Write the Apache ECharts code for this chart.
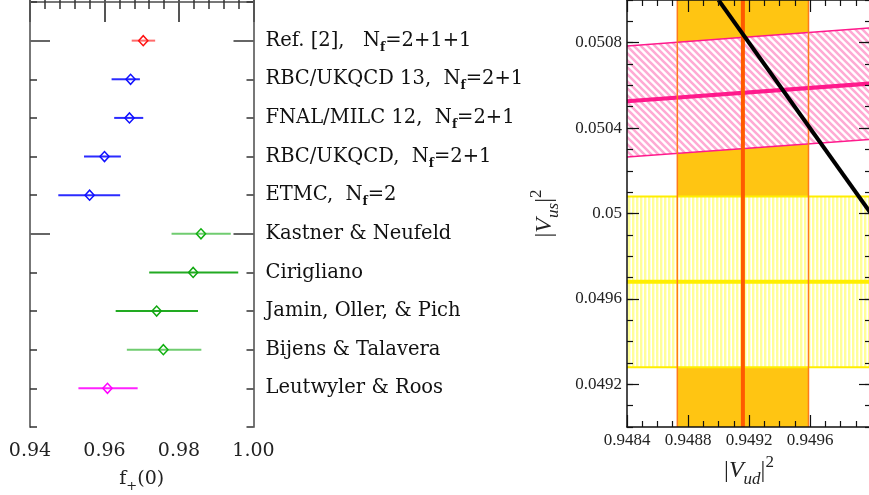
<!DOCTYPE html>
<html><head><meta charset="utf-8">
<script src="https://cdn.jsdelivr.net/npm/echarts@6/dist/echarts.min.js"></script>
<style>html,body{margin:0;padding:0;background:#fff}#c{width:869px;height:495px}</style>
</head><body><div id="c"></div>
<script>
// ---- Left panel data: f+(0) determinations ----
const names = ['Ref. [2],   N_f=2+1+1', 'RBC/UKQCD 13,  N_f=2+1', 'FNAL/MILC 12,  N_f=2+1', 'RBC/UKQCD,  N_f=2+1', 'ETMC,  N_f=2', 'Kastner & Neufeld', 'Cirigliano', 'Jamin, Oller, & Pich', 'Bijens & Talavera', 'Leutwyler & Roos'];
const fplus   = [0.9704, 0.9670, 0.9667, 0.9600, 0.9560, 0.9859, 0.9838, 0.9740, 0.9758, 0.9608];
const errLow  = [0.0031, 0.0051, 0.0041, 0.0055, 0.0084, 0.0079, 0.0118, 0.0110, 0.0098, 0.0078];
const errHigh = [0.0032, 0.0025, 0.0037, 0.0044, 0.0082, 0.0080, 0.0121, 0.0111, 0.0102, 0.0081];

// ---- Right panel data ----
const vud2 = 0.94916, vud2Err = 0.00043;          // |Vud|^2 band (orange)
const vus2 = 0.04968, vus2Err = 0.00040;          // |Vus|^2 band (yellow)
const ratioCenter = [[0.9484, 0.050526], [0.9500, 0.050609]]; // pink band centre
const ratioUpper  = [[0.9484, 0.050784], [0.9500, 0.050870]];
const ratioLower  = [[0.9484, 0.050265], [0.9500, 0.050347]];
const unitarity   = [[0.9490, 0.0510], [0.9500, 0.0500]];   // black line
const vudRange = [0.9484, 0.9500];
const vusRange = [0.0490, 0.0510];
const vusMajor = [0.0492, 0.0496, 0.0500, 0.0504, 0.0508];

// ---- styles ----
const barColors  = ['#ff6b6b', '#2b2bff', '#2b2bff', '#2b2bff', '#2b2bff', '#70cc70', '#22aa22', '#22aa22', '#70cc70', '#ff22ff'];
const markColors = ['#ff1010', '#1010ff', '#1010ff', '#1010ff', '#1010ff', '#10b010', '#10a810', '#10a810', '#10b010', '#ff00ff'];

function makePattern(w, h, draw) {
  const c = document.createElement('canvas'); c.width = w; c.height = h;
  draw(c.getContext('2d'), w, h); return c;
}
const pinkPat = makePattern(7, 7, (g, w, h) => {
  g.fillStyle = '#ffffff'; g.fillRect(0, 0, w, h);
  g.strokeStyle = '#ffaad4'; g.lineWidth = 2.6; g.beginPath();
  g.moveTo(-2, -2); g.lineTo(w + 2, h + 2);
  g.moveTo(-2, h - 2); g.lineTo(2, h + 2);
  g.moveTo(w - 2, -2); g.lineTo(w + 2, 2);
  g.stroke();
});
const yellowPat = makePattern(4, 4, (g, w, h) => {
  g.fillStyle = '#ffffff'; g.fillRect(0, 0, w, h);
  g.fillStyle = '#ffff99'; g.fillRect(0, 0, 2.4, h);
});

const serif = 'DejaVu Serif';
const times = 'Liberation Serif';

function labelRich(s) {
  const i = s.indexOf('N_f');
  if (i < 0) return '{t|' + s + '}';
  return '{t|' + s.slice(0, i) + 'N}{s|f}{t|' + s.slice(i + 3) + '}';
}

const leftRows = fplus.map((v, i) => [v, v - errLow[i], v + errHigh[i], i + 1]);

const baseTickL = { inside: true, length: 7, lineStyle: { color: '#333', width: 1.5 } };
const axisLineL = { show: true, lineStyle: { color: '#777', width: 2 } };
const axisLineR = { show: true, lineStyle: { color: '#111', width: 1.5 } };
const nameRich = {
  n: { fontSize: 24, fontFamily: times, color: '#222', lineHeight: 34 },
  v: { fontSize: 24, fontFamily: times, fontStyle: 'italic', color: '#222', lineHeight: 34 },
  sub: { fontSize: 17, fontFamily: times, fontStyle: 'italic', color: '#222', lineHeight: 15, verticalAlign: 'bottom' },
  sup: { fontSize: 17, fontFamily: times, color: '#222', lineHeight: 15, verticalAlign: 'top' }
};

const option = {
  animation: false,
  backgroundColor: '#fff',
  grid: [
    { left: 30, top: 2, width: 223.5, height: 425, outerBoundsMode: 'none', containLabel: false },
    { left: 627, top: 0, width: 244, height: 427, outerBoundsMode: 'none', containLabel: false }
  ],
  xAxis: [
    { gridIndex: 0, type: 'value', position: 'bottom', min: 0.94, max: 1.00, interval: 0.02,
      axisLine: axisLineL,
      axisTick: { inside: true, length: 20, lineStyle: { color: '#555', width: 2 } },
      minorTick: { show: true, splitNumber: 5, length: 7, lineStyle: { color: '#333', width: 1.5 } },
      splitLine: { show: false },
      axisLabel: { margin: 15, fontSize: 19, fontFamily: serif, color: '#222', formatter: v => v.toFixed(2) },
      name: '{n|f}{sub|+}{n|(0)}', nameLocation: 'middle', nameGap: 38,
      nameTextStyle: { rich: {
        n: { fontSize: 19, fontFamily: serif, color: '#222', lineHeight: 28 },
        sub: { fontSize: 13, fontFamily: serif, color: '#222', lineHeight: 12, verticalAlign: 'bottom' } } } },
    { gridIndex: 0, type: 'value', position: 'top', min: 0.94, max: 1.00, interval: 0.02,
      axisLine: axisLineL,
      axisTick: { inside: true, length: 20, lineStyle: { color: '#555', width: 2 } },
      minorTick: { show: true, splitNumber: 5, length: 7, lineStyle: { color: '#333', width: 1.5 } },
      splitLine: { show: false }, axisLabel: { show: false } },
    { gridIndex: 1, type: 'value', position: 'bottom', min: vudRange[0], max: vudRange[1], interval: 0.0004, z: 10,
      axisLine: axisLineR,
      axisTick: { inside: true, length: 12, lineStyle: { color: '#111', width: 1.2 } },
      minorTick: { show: true, splitNumber: 4, length: 6, lineStyle: { color: '#111', width: 1.2 } },
      splitLine: { show: false },
      axisLabel: { margin: 5, fontSize: 17, fontFamily: times, color: '#222', showMaxLabel: false, formatter: v => v.toFixed(4) },
      name: '{n||}{v|V}{sub|ud}{n||}{sup|2}', nameLocation: 'middle', nameGap: 24,
      nameTextStyle: { rich: nameRich } },
    { gridIndex: 1, type: 'value', position: 'top', min: vudRange[0], max: vudRange[1], interval: 0.0004, z: 10,
      axisLine: axisLineR,
      axisTick: { inside: true, length: 12, lineStyle: { color: '#111', width: 1.2 } },
      minorTick: { show: true, splitNumber: 4, length: 6, lineStyle: { color: '#111', width: 1.2 } },
      splitLine: { show: false }, axisLabel: { show: false } }
  ],
  yAxis: [
    { gridIndex: 0, type: 'value', position: 'left', min: 0, max: 11, interval: 1, inverse: true,
      axisLine: axisLineL, axisTick: baseTickL, splitLine: { show: false }, axisLabel: { show: false } },
    { gridIndex: 0, type: 'value', position: 'right', min: 0, max: 11, interval: 1, inverse: true,
      axisLine: axisLineL, axisTick: baseTickL, splitLine: { show: false },
      axisLabel: { margin: 12, color: '#111',
        formatter: v => (v >= 1 && v <= names.length) ? labelRich(names[v - 1]) : '',
        rich: {
          t: { fontSize: 19.5, fontFamily: serif, color: '#111', lineHeight: 26 },
          s: { fontSize: 12, fontFamily: serif, fontWeight: 'bold', color: '#111', lineHeight: 10, verticalAlign: 'bottom' } } } },
    { gridIndex: 0, type: 'value', position: 'left', min: 0, max: 11, inverse: true,
      axisLine: { show: false }, splitLine: { show: false }, axisLabel: { show: false },
      axisTick: { inside: true, length: 20, customValues: [1, 6], lineStyle: { color: '#666', width: 2 } } },
    { gridIndex: 0, type: 'value', position: 'right', min: 0, max: 11, inverse: true,
      axisLine: { show: false }, splitLine: { show: false }, axisLabel: { show: false },
      axisTick: { inside: true, length: 20, customValues: [1, 6], lineStyle: { color: '#666', width: 2 } } },

    { gridIndex: 1, type: 'value', position: 'left', min: vusRange[0], max: vusRange[1], interval: 0.0001, z: 10,
      axisLine: axisLineR, splitLine: { show: false }, axisLabel: { show: false },
      axisTick: { inside: true, length: 6, lineStyle: { color: '#111', width: 1.2 } },
      name: '{n||}{v|V}{sub|us}{n||}{sup|2}', nameLocation: 'middle', nameRotate: 90, nameGap: 65,
      nameTextStyle: { rich: nameRich } },
    { gridIndex: 1, type: 'value', position: 'left', min: vusRange[0], max: vusRange[1], z: 10,
      axisLine: { show: false }, splitLine: { show: false },
      axisTick: { inside: true, length: 12, customValues: vusMajor, lineStyle: { color: '#111', width: 1.2 } },
      axisLabel: { customValues: vusMajor, margin: 5, fontSize: 17, fontFamily: times, color: '#222',
        formatter: v => String(+v.toFixed(4)) } },
    { gridIndex: 1, type: 'value', position: 'right', min: vusRange[0], max: vusRange[1], interval: 0.0001, z: 10,
      axisLine: axisLineR, splitLine: { show: false }, axisLabel: { show: false },
      axisTick: { inside: true, length: 6, lineStyle: { color: '#111', width: 1.2 } } },
    { gridIndex: 1, type: 'value', position: 'right', min: vusRange[0], max: vusRange[1], z: 10,
      axisLine: { show: false }, splitLine: { show: false }, axisLabel: { show: false },
      axisTick: { inside: true, length: 12, customValues: vusMajor, lineStyle: { color: '#111', width: 1.2 } } }
  ],
  series: [
    // left panel points with error bars
    { type: 'custom', coordinateSystem: 'cartesian2d', xAxisIndex: 0, yAxisIndex: 0, z: 5,
      data: leftRows, encode: { x: [0, 1, 2], y: 3 }, silent: true,
      renderItem(params, api) {
        const i = params.dataIndex, y = api.value(3);
        const a = api.coord([api.value(1), y]), b = api.coord([api.value(2), y]), c = api.coord([api.value(0), y]);
        return { type: 'group', children: [
          { type: 'line', shape: { x1: a[0], y1: a[1], x2: b[0], y2: b[1] }, style: { stroke: barColors[i], lineWidth: 2 } },
          { type: 'polygon', shape: { points: [[c[0] - 4.6, c[1]], [c[0], c[1] - 5], [c[0] + 4.6, c[1]], [c[0], c[1] + 5]] },
            style: { fill: 'none', stroke: markColors[i], lineWidth: 1.5 } }
        ] };
      } },
    // right panel: orange vertical band fill
    { type: 'custom', coordinateSystem: 'cartesian2d', xAxisIndex: 2, yAxisIndex: 4, z: 1, silent: true,
      data: [[vud2 - vud2Err, vud2 + vud2Err]], encode: { x: [0, 1] },
      renderItem(params, api) {
        const p0 = api.coord([api.value(0), vusRange[1]]), p1 = api.coord([api.value(1), vusRange[0]]);
        return { type: 'rect', shape: { x: p0[0], y: p0[1], width: p1[0] - p0[0], height: p1[1] - p0[1] }, style: { fill: '#ffc512' } };
      } },
    // yellow horizontal hatched band
    { type: 'custom', coordinateSystem: 'cartesian2d', xAxisIndex: 2, yAxisIndex: 4, z: 2, silent: true,
      data: [[vus2 - vus2Err, vus2 + vus2Err]], encode: { y: [0, 1] },
      renderItem(params, api) {
        const p0 = api.coord([vudRange[0], api.value(1)]), p1 = api.coord([vudRange[1], api.value(0)]);
        return { type: 'rect', shape: { x: p0[0], y: p0[1], width: p1[0] - p0[0], height: p1[1] - p0[1] },
          style: { fill: { image: yellowPat, repeat: 'repeat' } } };
      } },
    // pink sloped hatched band
    { type: 'custom', coordinateSystem: 'cartesian2d', xAxisIndex: 2, yAxisIndex: 4, z: 2, silent: true,
      data: [[ratioUpper[0][0], ratioUpper[0][1], ratioUpper[1][0], ratioUpper[1][1], ratioLower[1][1], ratioLower[0][1]]],
      renderItem(params, api) {
        const x0 = api.value(0), x1 = api.value(2);
        const pts = [api.coord([x0, api.value(1)]), api.coord([x1, api.value(3)]), api.coord([x1, api.value(4)]), api.coord([x0, api.value(5)])];
        return { type: 'polygon', shape: { points: pts }, style: { fill: { image: pinkPat, repeat: 'repeat' } } };
      } },
    // yellow lines
    ...[[vus2 - vus2Err, 2], [vus2 + vus2Err, 2], [vus2, 4]].map(([v, w]) => ({
      type: 'line', xAxisIndex: 2, yAxisIndex: 4, z: 3, symbol: 'none', silent: true,
      data: [[vudRange[0], v], [vudRange[1], v]], lineStyle: { color: '#ffee00', width: w } })),
    // pink lines
    ...[[ratioUpper, 1.5], [ratioLower, 1.5], [ratioCenter, 4]].map(([d, w]) => ({
      type: 'line', xAxisIndex: 2, yAxisIndex: 4, z: 3, symbol: 'none', silent: true,
      data: d, lineStyle: { color: '#ff1a8c', width: w } })),
    // orange lines
    ...[[vud2 - vud2Err, 1.5, '#ff7a1a'], [vud2 + vud2Err, 1.5, '#ff7a1a'], [vud2, 4, '#ff5a00']].map(([v, w, c]) => ({
      type: 'line', xAxisIndex: 2, yAxisIndex: 4, z: 4, symbol: 'none', silent: true,
      data: [[v, vusRange[0]], [v, vusRange[1]]], lineStyle: { color: c, width: w } })),
    // unitarity line
    { type: 'line', xAxisIndex: 2, yAxisIndex: 4, z: 5, symbol: 'none', silent: true,
      data: unitarity, lineStyle: { color: '#000', width: 4 } }
  ]
};
const chart = echarts.init(document.getElementById('c'), null, { renderer: 'canvas' });
chart.setOption(option);
</script></body></html>
